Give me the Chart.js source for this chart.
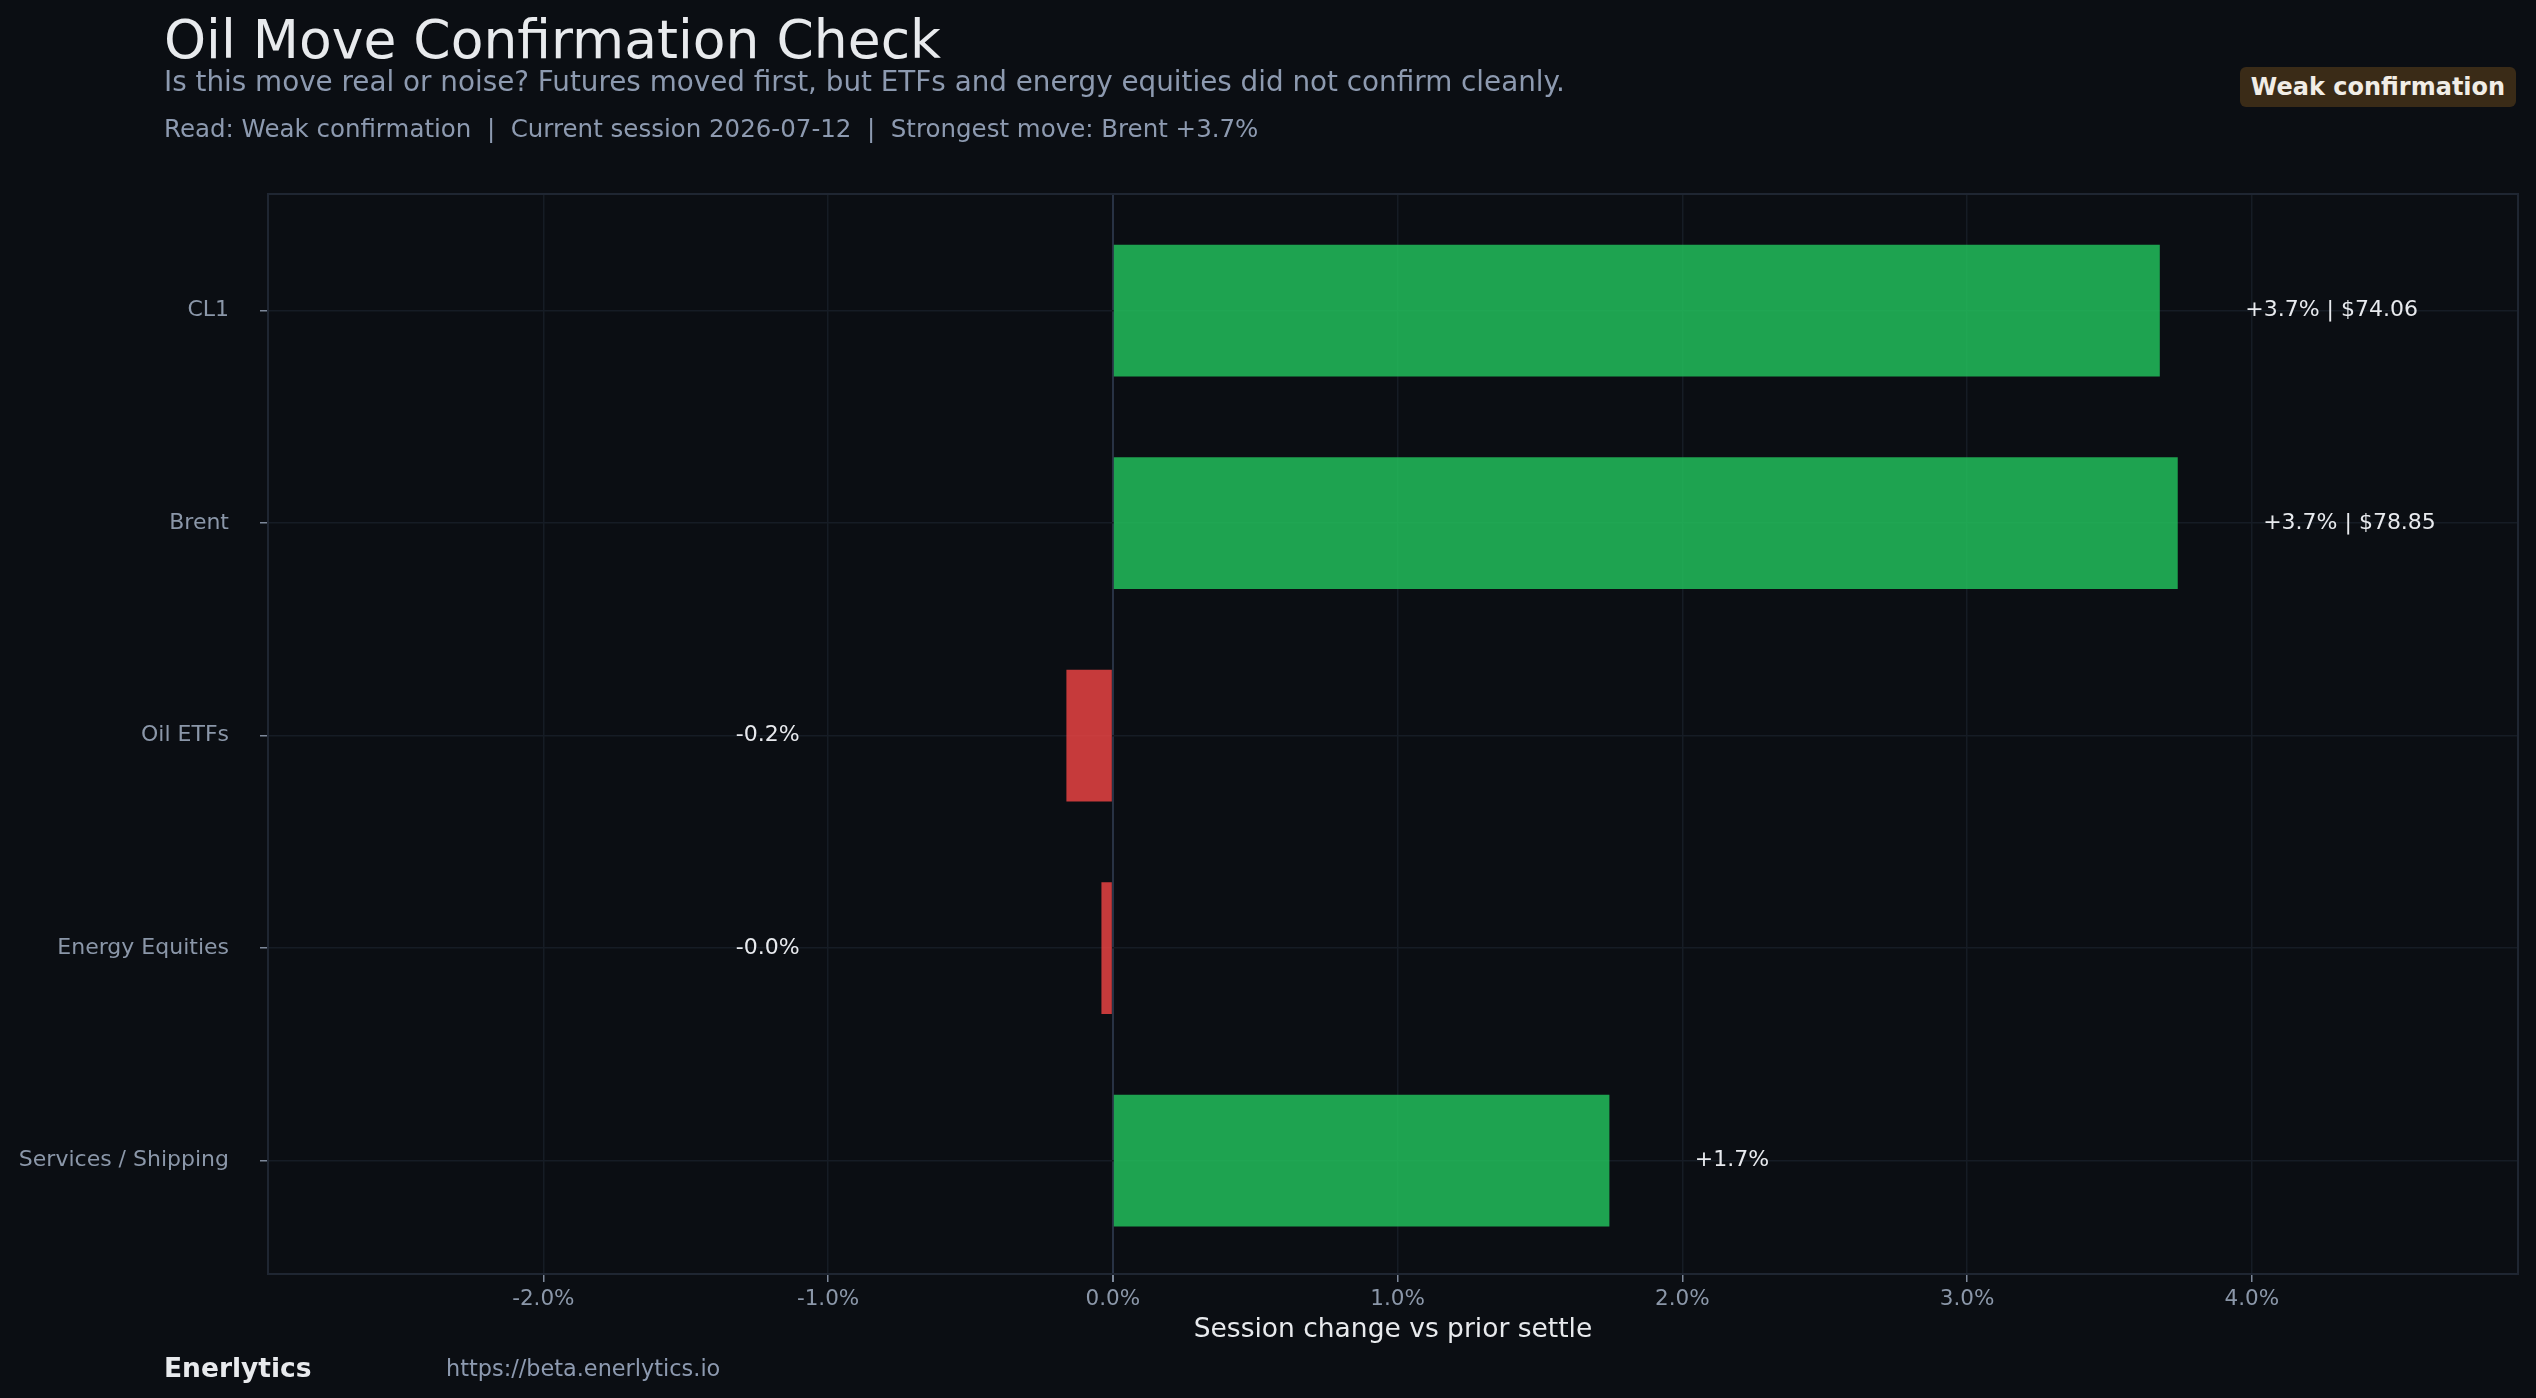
<!DOCTYPE html>
<html>
<head>
<meta charset="utf-8">
<title>Oil Move Confirmation Check</title>
<script src="https://cdn.jsdelivr.net/npm/chart.js@4.4.1/dist/chart.umd.min.js"></script>
<style>
  html, body { margin: 0; padding: 0; background: #0b0e13; }
  body { width: 2536px; height: 1398px; position: relative; overflow: hidden; font-family: "DejaVu Sans", sans-serif; }
  #chart { position: absolute; left: 0; top: 0; }
  .txt { position: absolute; line-height: 1; white-space: pre; }
  #title { left: 164px; top: 13px; font-size: 53.5px; color: #e8eaed; }
  #subtitle { left: 164px; top: 68px; font-size: 27.8px; color: #8d9ab0; }
  #meta { left: 164px; top: 117px; font-size: 24.5px; color: #8d9ab0; }
  #badge { position: absolute; left: 2240px; top: 67px; width: 276px; height: 40px; line-height: 40px;
           background: #3a2b17; border-radius: 6px; color: #f1ede6; font-weight: bold; font-size: 24px; text-align: center; }
  #brand { left: 164px; top: 1355px; font-size: 26.5px; font-weight: bold; color: #e8eaed; }
  #url { left: 446px; top: 1357px; font-size: 22.4px; color: #8d9ab0; }
</style>
</head>
<body>
<canvas id="chart" width="2536" height="1398"></canvas>
<div class="txt" id="title">Oil Move Confirmation Check</div>
<div class="txt" id="subtitle">Is this move real or noise? Futures moved first, but ETFs and energy equities did not confirm cleanly.</div>
<div class="txt" id="meta">Read: Weak confirmation  |  Current session 2026-07-12  |  Strongest move: Brent +3.7%</div>
<div id="badge">Weak confirmation</div>
<div class="txt" id="brand">Enerlytics</div>
<div class="txt" id="url">https://beta.enerlytics.io</div>
<script>
// session change vs prior settle, in percent
var categories = ['CL1', 'Brent', 'Oil ETFs', 'Energy Equities', 'Services / Shipping'];
var changes = [3.677, 3.740, -0.163, -0.040, 1.744];
var prices = [74.06, 78.85, null, null, null];
var xTicks = [-2, -1, 0, 1, 2, 3, 4];

var green = 'rgba(34, 197, 94, 0.82)';
var red = 'rgba(239, 68, 68, 0.82)';
var tickColor = '#8b97a9';
var font = '"DejaVu Sans"';

function barLabel(i) {
  var v = changes[i];
  var s = (v >= 0 ? '+' : '') + v.toFixed(1) + '%';
  if (prices[i] != null) s += ' | $' + prices[i].toFixed(2);
  return s;
}

// frame round the plot area
var frame = {
  id: 'frame',
  beforeDatasetsDraw: function(chart) {
    var a = chart.chartArea, ctx = chart.ctx;
    ctx.save();
    ctx.strokeStyle = '#1f2632';
    ctx.lineWidth = 2;
    ctx.strokeRect(a.left, a.top, a.right - a.left, a.bottom - a.top);
    ctx.restore();
  }
};

var valueLabels = {
  id: 'valueLabels',
  afterDatasetsDraw: function(chart) {
    var ctx = chart.ctx, xs = chart.scales.x, ys = chart.scales.y;
    ctx.save();
    ctx.font = '22px ' + font;
    ctx.fillStyle = '#e8eaee';
    ctx.textBaseline = 'middle';
    changes.forEach(function(v, i) {
      var y = ys.getPixelForValue(i);
      if (v >= 0) {
        ctx.textAlign = 'left';
        ctx.fillText(barLabel(i), xs.getPixelForValue(v + 0.3), y);
      } else {
        ctx.textAlign = 'right';
        ctx.fillText(barLabel(i), xs.getPixelForValue(-1.1), y);
      }
    });
    ctx.restore();
  }
};

var ctx = document.getElementById('chart').getContext('2d');

new Chart(ctx, {
  type: 'bar',
  data: {
    datasets: [{
      data: changes.map(function(v, i) { return { x: v, y: i }; }),
      backgroundColor: changes.map(function(v) { return v >= 0 ? green : red; }),
      borderWidth: 0,
      barPercentage: 0.62,
      categoryPercentage: 1
    }]
  },
  options: {
    indexAxis: 'y',
    responsive: false,
    animation: false,
    layout: { padding: { top: 194, right: 18, bottom: 52, left: 0 } },
    plugins: { legend: { display: false }, tooltip: { enabled: false } },
    scales: {
      x: {
        type: 'linear',
        bounds: 'data',
        min: -2.967,
        max: 4.935,
        afterBuildTicks: function(s) { s.ticks = xTicks.map(function(v) { return { value: v }; }); },
        afterFit: function(s) { s.height = 72; },
        ticks: {
          callback: function(v) { return v.toFixed(1) + '%'; },
          color: tickColor,
          font: { family: font, size: 21.5 },
          padding: 5,
          maxRotation: 0,
          autoSkip: false
        },
        grid: {
          color: function(c) { return c.tick && c.tick.value === 0 ? '#283244' : '#161c25'; },
          lineWidth: function(c) { return c.tick && c.tick.value === 0 ? 2 : 1.5; },
          tickColor: '#7d889a',
          tickLength: 8
        },
        border: { display: false },
        title: {
          display: true,
          text: 'Session change vs prior settle',
          color: '#e8eaed',
          font: { family: font, size: 26.5 },
          padding: 0
        }
      },
      y: {
        type: 'linear',
        bounds: 'data',
        offset: false,
        reverse: true,
        min: -0.549,
        max: 4.533,
        afterBuildTicks: function(s) { s.ticks = categories.map(function(c, i) { return { value: i }; }); },
        afterFit: function(s) { s.width = 268; },
        ticks: {
          callback: function(v) { return categories[v]; },
          color: tickColor,
          font: { family: font, size: 22 },
          padding: 31,
          autoSkip: false
        },
        grid: {
          offset: false,
          color: '#161c25',
          lineWidth: 1.5,
          tickColor: '#7d889a',
          tickLength: 8
        },
        border: { display: false }
      }
    }
  },
  plugins: [frame, valueLabels]
});
</script>
</body>
</html>
